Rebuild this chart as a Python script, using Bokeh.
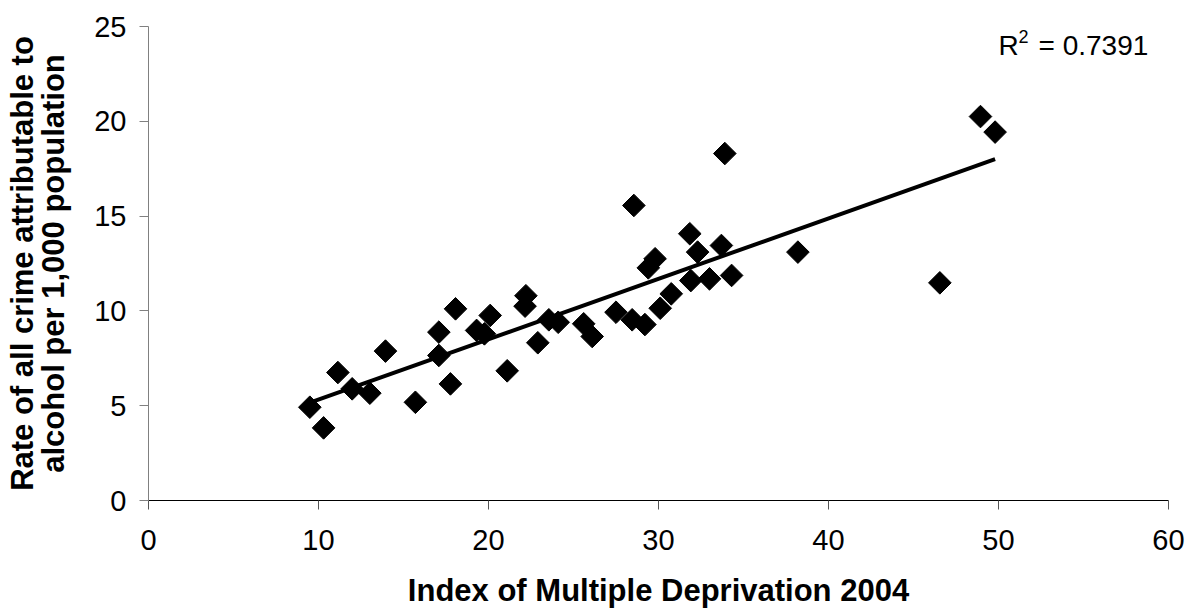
import numpy as np
from bokeh.plotting import figure
from bokeh.models import Label, FixedTicker, Range1d
from bokeh.embed import file_html
from bokeh.resources import INLINE

imd = [9.49, 10.3, 11.14, 11.98, 13.02, 13.94, 15.7, 17.08, 17.08, 17.76,
       18.06, 19.3, 19.76, 20.1, 21.1, 22.2, 22.15, 22.9, 23.55, 24.1,
       25.6, 26.1, 27.5, 28.45, 28.55, 29.2, 29.4, 29.8, 30.1, 30.75,
       31.84, 31.9, 32.3, 33.0, 33.7, 33.9, 34.3, 38.2, 46.55, 48.94, 49.8]
rate = [4.92, 3.83, 6.75, 5.89, 5.66, 7.88, 5.18, 8.88, 7.65, 6.15,
        10.11, 8.97, 8.79, 9.76, 6.84, 10.8, 10.25, 8.32, 9.53, 9.4,
        9.32, 8.65, 9.93, 9.53, 15.56, 9.28, 12.27, 12.75, 10.14, 10.9,
        14.07, 11.6, 13.1, 11.69, 13.45, 18.3, 11.87, 13.1, 11.48, 20.25, 19.43]
x_ticks = [0, 10, 20, 30, 40, 50, 60]
y_ticks = [0, 5, 10, 15, 20, 25]
r2_text = "0.7391"
y_label_lines = ["Rate of all crime attributable to", "alcohol per 1,000 population"]

FONT = "Liberation Sans"

p = figure(width=1196, height=611, output_backend="svg", toolbar_location=None,
           x_range=Range1d(0, 60), y_range=Range1d(0, 25),
           min_border_left=148, min_border_right=28, min_border_top=26, min_border_bottom=111)
p.outline_line_color = None
p.grid.grid_line_color = None
p.background_fill_color = "white"
p.border_fill_color = "white"

# trendline (least squares)
xa = np.array(imd); ya = np.array(rate)
m, c = np.polyfit(xa, ya, 1)
xl = np.array([xa.min(), xa.max()])
p.line(xl, m * xl + c, line_color="black", line_width=4)

p.scatter(imd, rate, marker="square", size=16, angle=np.pi / 4,
          fill_color="black", line_color="black")

for ax in (p.xaxis[0], p.yaxis[0]):
    ax.major_tick_in = 0
    ax.major_tick_out = 9
    ax.minor_tick_line_color = None
    ax.major_label_text_font = FONT
    ax.major_label_text_font_size = "29px"
    ax.major_label_text_color = "black"
    ax.axis_label_text_font = FONT
    ax.axis_label_text_font_size = "31px"
    ax.axis_label_text_font_style = "bold"
    ax.axis_label_text_color = "black"

p.xaxis[0].ticker = FixedTicker(ticks=x_ticks)
p.yaxis[0].ticker = FixedTicker(ticks=y_ticks)
p.xaxis[0].axis_line_color = "black"
p.xaxis[0].major_tick_line_color = "#555555"
p.yaxis[0].axis_line_color = "#808080"
p.yaxis[0].major_tick_line_color = "#808080"
p.xaxis[0].axis_label = "Index of Multiple Deprivation 2004"
p.xaxis[0].major_label_standoff = 20
p.yaxis[0].major_label_standoff = 13
p.xaxis[0].axis_label_standoff = 20

p.yaxis[0].axis_label = "\n".join(y_label_lines)
p.yaxis[0].axis_label_text_line_height = 0.9
p.yaxis[0].axis_label_standoff = 20

p.add_layout(Label(x=850, y=455, x_units="screen", y_units="screen", text="R",
                   text_font=FONT, text_font_size="28px", text_baseline="alphabetic",
                   text_color="black"))
p.add_layout(Label(x=870, y=464, x_units="screen", y_units="screen", text="2",
                   text_font=FONT, text_font_size="18px", text_baseline="alphabetic",
                   text_color="black"))
p.add_layout(Label(x=890, y=455, x_units="screen", y_units="screen", text="= " + r2_text,
                   text_font=FONT, text_font_size="28px", text_baseline="alphabetic",
                   text_color="black"))

open("out.html", "w").write(file_html(p, INLINE))
